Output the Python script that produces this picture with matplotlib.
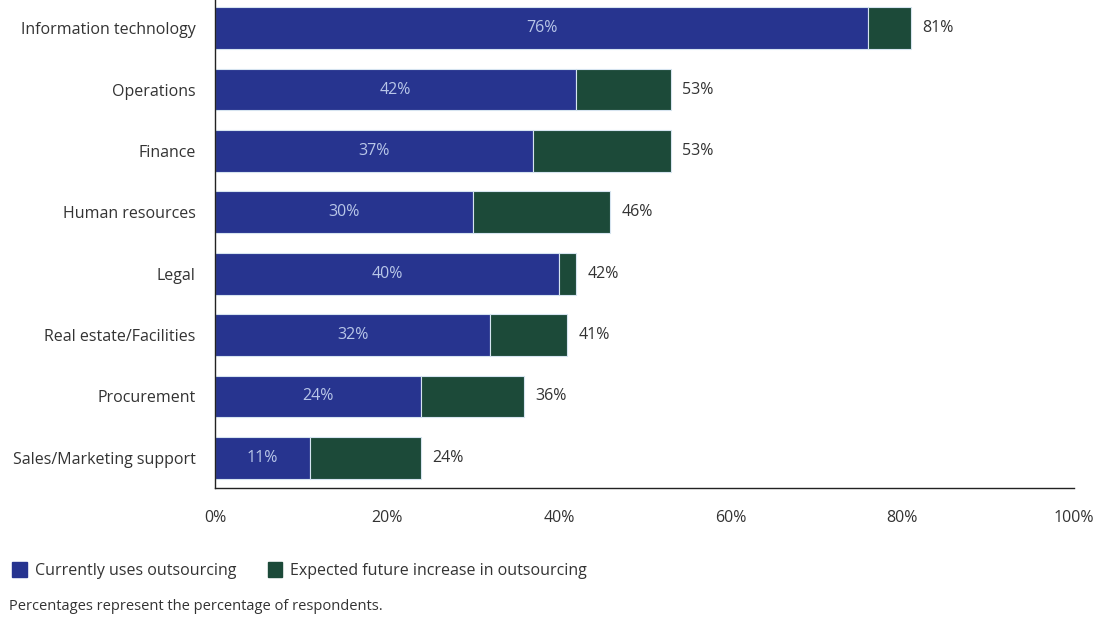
import matplotlib
matplotlib.use('Agg')
import matplotlib.pyplot as plt
from matplotlib.patches import Patch

categories = ['Information technology', 'Operations', 'Finance', 'Human resources',
              'Legal', 'Real estate/Facilities', 'Procurement', 'Sales/Marketing support']
current = [76, 42, 37, 30, 40, 32, 24, 11]
expected = [81, 53, 53, 46, 42, 41, 36, 24]
xticks = [0, 20, 40, 60, 80, 100]

blue = '#27348f'
green = '#1c4a39'
text_color = '#333333'

plt.rcParams['font.family'] = ['Open Sans', 'DejaVu Sans']

fig = plt.figure(figsize=(11.04, 6.2), dpi=100)
ax = fig.add_axes([0.195, 0.213, 0.778, 0.787])

ypos = list(range(len(categories)))
increase = [e - c for c, e in zip(current, expected)]
ax.barh(ypos, current, height=0.68, color=blue, edgecolor='#d6e4f0', linewidth=0.8)
ax.barh(ypos, increase, left=current, height=0.68, color=green,
        edgecolor='#d6e4f0', linewidth=0.8)

for y, c, e in zip(ypos, current, expected):
    ax.text(c / 2, y, f'{c}%', ha='center', va='center', color='#b8c6e8', fontsize=11.5)
    ax.text(e + 1.3, y, f'{e}%', ha='left', va='center', color=text_color, fontsize=11.5)

ax.set_xlim(0, 100)
ax.set_ylim(7.49, -0.46)
ax.set_yticks(ypos)
ax.set_yticklabels(categories, fontsize=11.5, color=text_color)
ax.set_xticks(xticks)
ax.set_xticklabels([f'{t}%' for t in xticks], fontsize=11.5, color=text_color)
ax.tick_params(axis='both', length=0)
ax.tick_params(axis='x', pad=16)
ax.tick_params(axis='y', pad=14)
for side in ['top', 'right']:
    ax.spines[side].set_visible(False)
for side in ['left', 'bottom']:
    ax.spines[side].set_color('#222222')
    ax.spines[side].set_linewidth(1.0)

handles = [Patch(color=blue, label='Currently uses outsourcing'),
           Patch(color=green, label='Expected future increase in outsourcing')]
fig.legend(handles=handles, loc='center left', bbox_to_anchor=(-0.002, 0.08), ncol=2,
           frameon=False, fontsize=11.5, handlelength=0.9, handleheight=1.1,
           handletextpad=0.5, columnspacing=2.0, labelcolor=text_color)
fig.text(0.008, 0.021, 'Percentages represent the percentage of respondents.',
         fontsize=10.5, color=text_color, ha='left', va='center')

fig.savefig('out.png', dpi=100)
